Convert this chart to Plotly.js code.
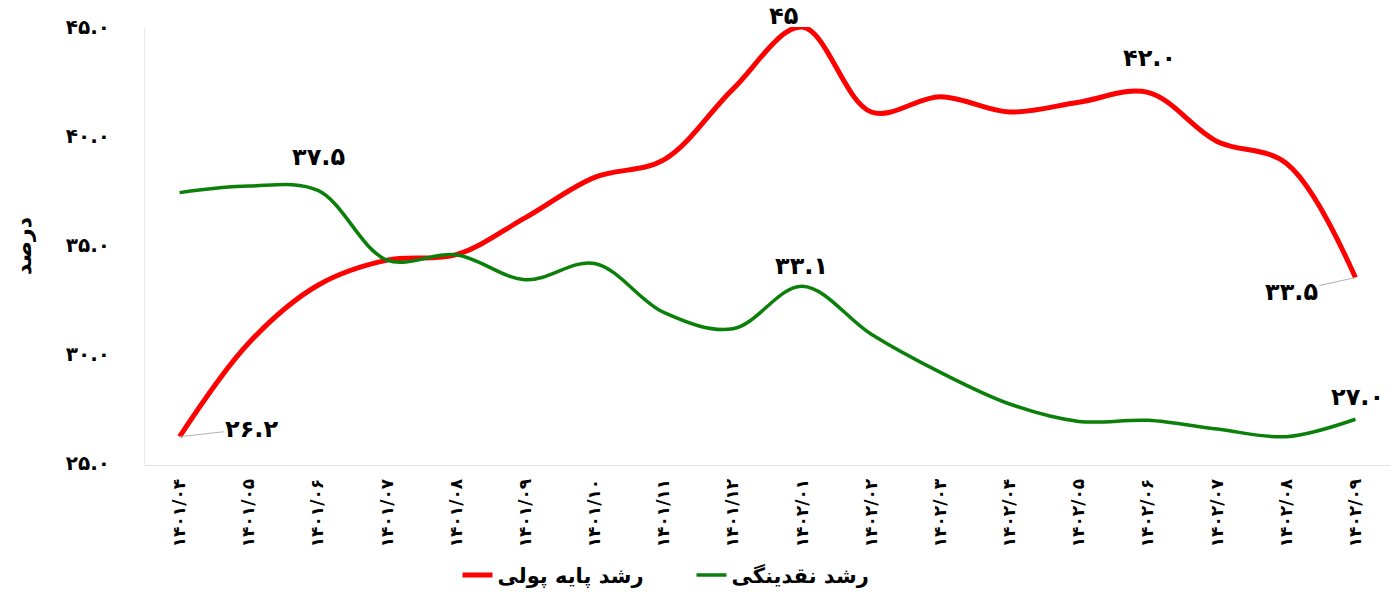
<!DOCTYPE html>
<html>
<head>
<meta charset="utf-8">
<script src="https://cdn.plot.ly/plotly-3.0.1.min.js"></script>
<style>html,body{margin:0;padding:0;background:#fff;}#chart{width:1391px;height:597px;}</style>
</head>
<body>
<div id="chart"></div>
<script>
// Categories (Persian dates)
const categories = ["۱۴۰۱/۰۴","۱۴۰۱/۰۵","۱۴۰۱/۰۶","۱۴۰۱/۰۷","۱۴۰۱/۰۸","۱۴۰۱/۰۹","۱۴۰۱/۱۰","۱۴۰۱/۱۱","۱۴۰۱/۱۲",
                    "۱۴۰۲/۰۱","۱۴۰۲/۰۲","۱۴۰۲/۰۳","۱۴۰۲/۰۴","۱۴۰۲/۰۵","۱۴۰۲/۰۶","۱۴۰۲/۰۷","۱۴۰۲/۰۸","۱۴۰۲/۰۹"];
// Series values (percent)
const baseMoneyGrowth = [26.2, 30.5, 33.15, 34.3, 34.55, 36.25, 38.1, 38.9, 42.15, 45.0, 41.1, 41.8, 41.1, 41.55, 42.0, 39.75, 38.75, 33.5];
const liquidityGrowth = [37.4, 37.7, 37.5, 34.3, 34.55, 33.4, 34.15, 31.9, 31.15, 33.1, 30.9, 29.15, 27.7, 26.9, 26.95, 26.55, 26.2, 27.0];
// Series names
const seriesNames = ["رشد پایه پولی", "رشد نقدینگی"];
// Y axis ticks
const yTickVals = [25, 30, 35, 40, 45];
const yTickText = ["۲۵.۰", "۳۰.۰", "۳۵.۰", "۴۰.۰", "۴۵.۰"];
const yTitle = "درصد";
// Data labels: index of point and text
const redLabelIdx = [0, 9, 14, 17];
const redLabelText = ["۲۶.۲", "۴۵", "۴۲.۰", "۳۳.۵"];
const greenLabelIdx = [2, 9, 17];
const greenLabelText = ["۳۷.۵", "۳۳.۱", "۲۷.۰"];

const FONT = "DejaVu Sans, Noto Sans, sans-serif";

const traces = [
  {x: categories, y: baseMoneyGrowth, name: seriesNames[0], type: 'scatter', mode: 'lines',
   line: {color: '#ff0000', width: 5, shape: 'spline', smoothing: 1}},
  {x: categories, y: liquidityGrowth, name: seriesNames[1], type: 'scatter', mode: 'lines',
   line: {color: '#0a800a', width: 3.5, shape: 'spline', smoothing: 1}}
];

// label offsets (style)
const redOffsets = [[72, -8, true], [-19, -11, false], [2, -34, false], [-64, 14, true]];
const greenOffsets = [[1, -33, false], [-1, -20, false], [2, -22, false]];

const annotations = [];
function addLabels(idx, texts, values, offsets) {
  idx.forEach((i, k) => {
    const o = offsets[k];
    annotations.push({
      x: categories[i], y: values[i], xref: 'x', yref: 'y',
      text: texts[k], showarrow: true, ax: o[0], ay: o[1],
      arrowhead: 0, arrowwidth: 1, arrowcolor: o[2] ? '#b0b0b0' : 'rgba(0,0,0,0)',
      font: {family: FONT, size: 24, color: '#000', weight: 'bold'}
    });
  });
}
addLabels(redLabelIdx, redLabelText, baseMoneyGrowth, redOffsets);
addLabels(greenLabelIdx, greenLabelText, liquidityGrowth, greenOffsets);

const layout = {
  width: 1391, height: 597,
  margin: {l: 145, r: 1, t: 27, b: 128},
  paper_bgcolor: '#fff', plot_bgcolor: '#fff',
  font: {family: FONT, color: '#000'},
  showlegend: true,
  legend: {orientation: 'h', x: 0.251, xanchor: 'left', y: -0.252, yanchor: 'middle',
           font: {family: FONT, size: 21, color: '#000', weight: 'bold'}, entrywidth: 189,
           bgcolor: 'rgba(0,0,0,0)'},
  xaxis: {type: 'category', range: [-0.5, 17.5], tickangle: -90, showgrid: false, zeroline: false,
          showline: true, linecolor: '#e3e3e3', linewidth: 1, ticks: 'outside', ticklen: 6, tickcolor: 'rgba(0,0,0,0)',
          tickfont: {family: FONT, size: 17, color: '#000', weight: 'bold'}},
  yaxis: {range: [24.9, 45], tickvals: yTickVals, ticktext: yTickText, showgrid: false, zeroline: false,
          showline: true, linecolor: '#ececec', linewidth: 1, ticks: 'outside', ticklen: 30, tickcolor: 'rgba(0,0,0,0)',
          tickfont: {family: FONT, size: 20, color: '#000', weight: 'bold'},
          title: {text: yTitle, standoff: 28, font: {family: FONT, size: 22, color: '#000', weight: 'bold'}}},
  annotations: annotations
};

Plotly.newPlot('chart', traces, layout, {displayModeBar: false, staticPlot: true});
</script>
</body>
</html>
